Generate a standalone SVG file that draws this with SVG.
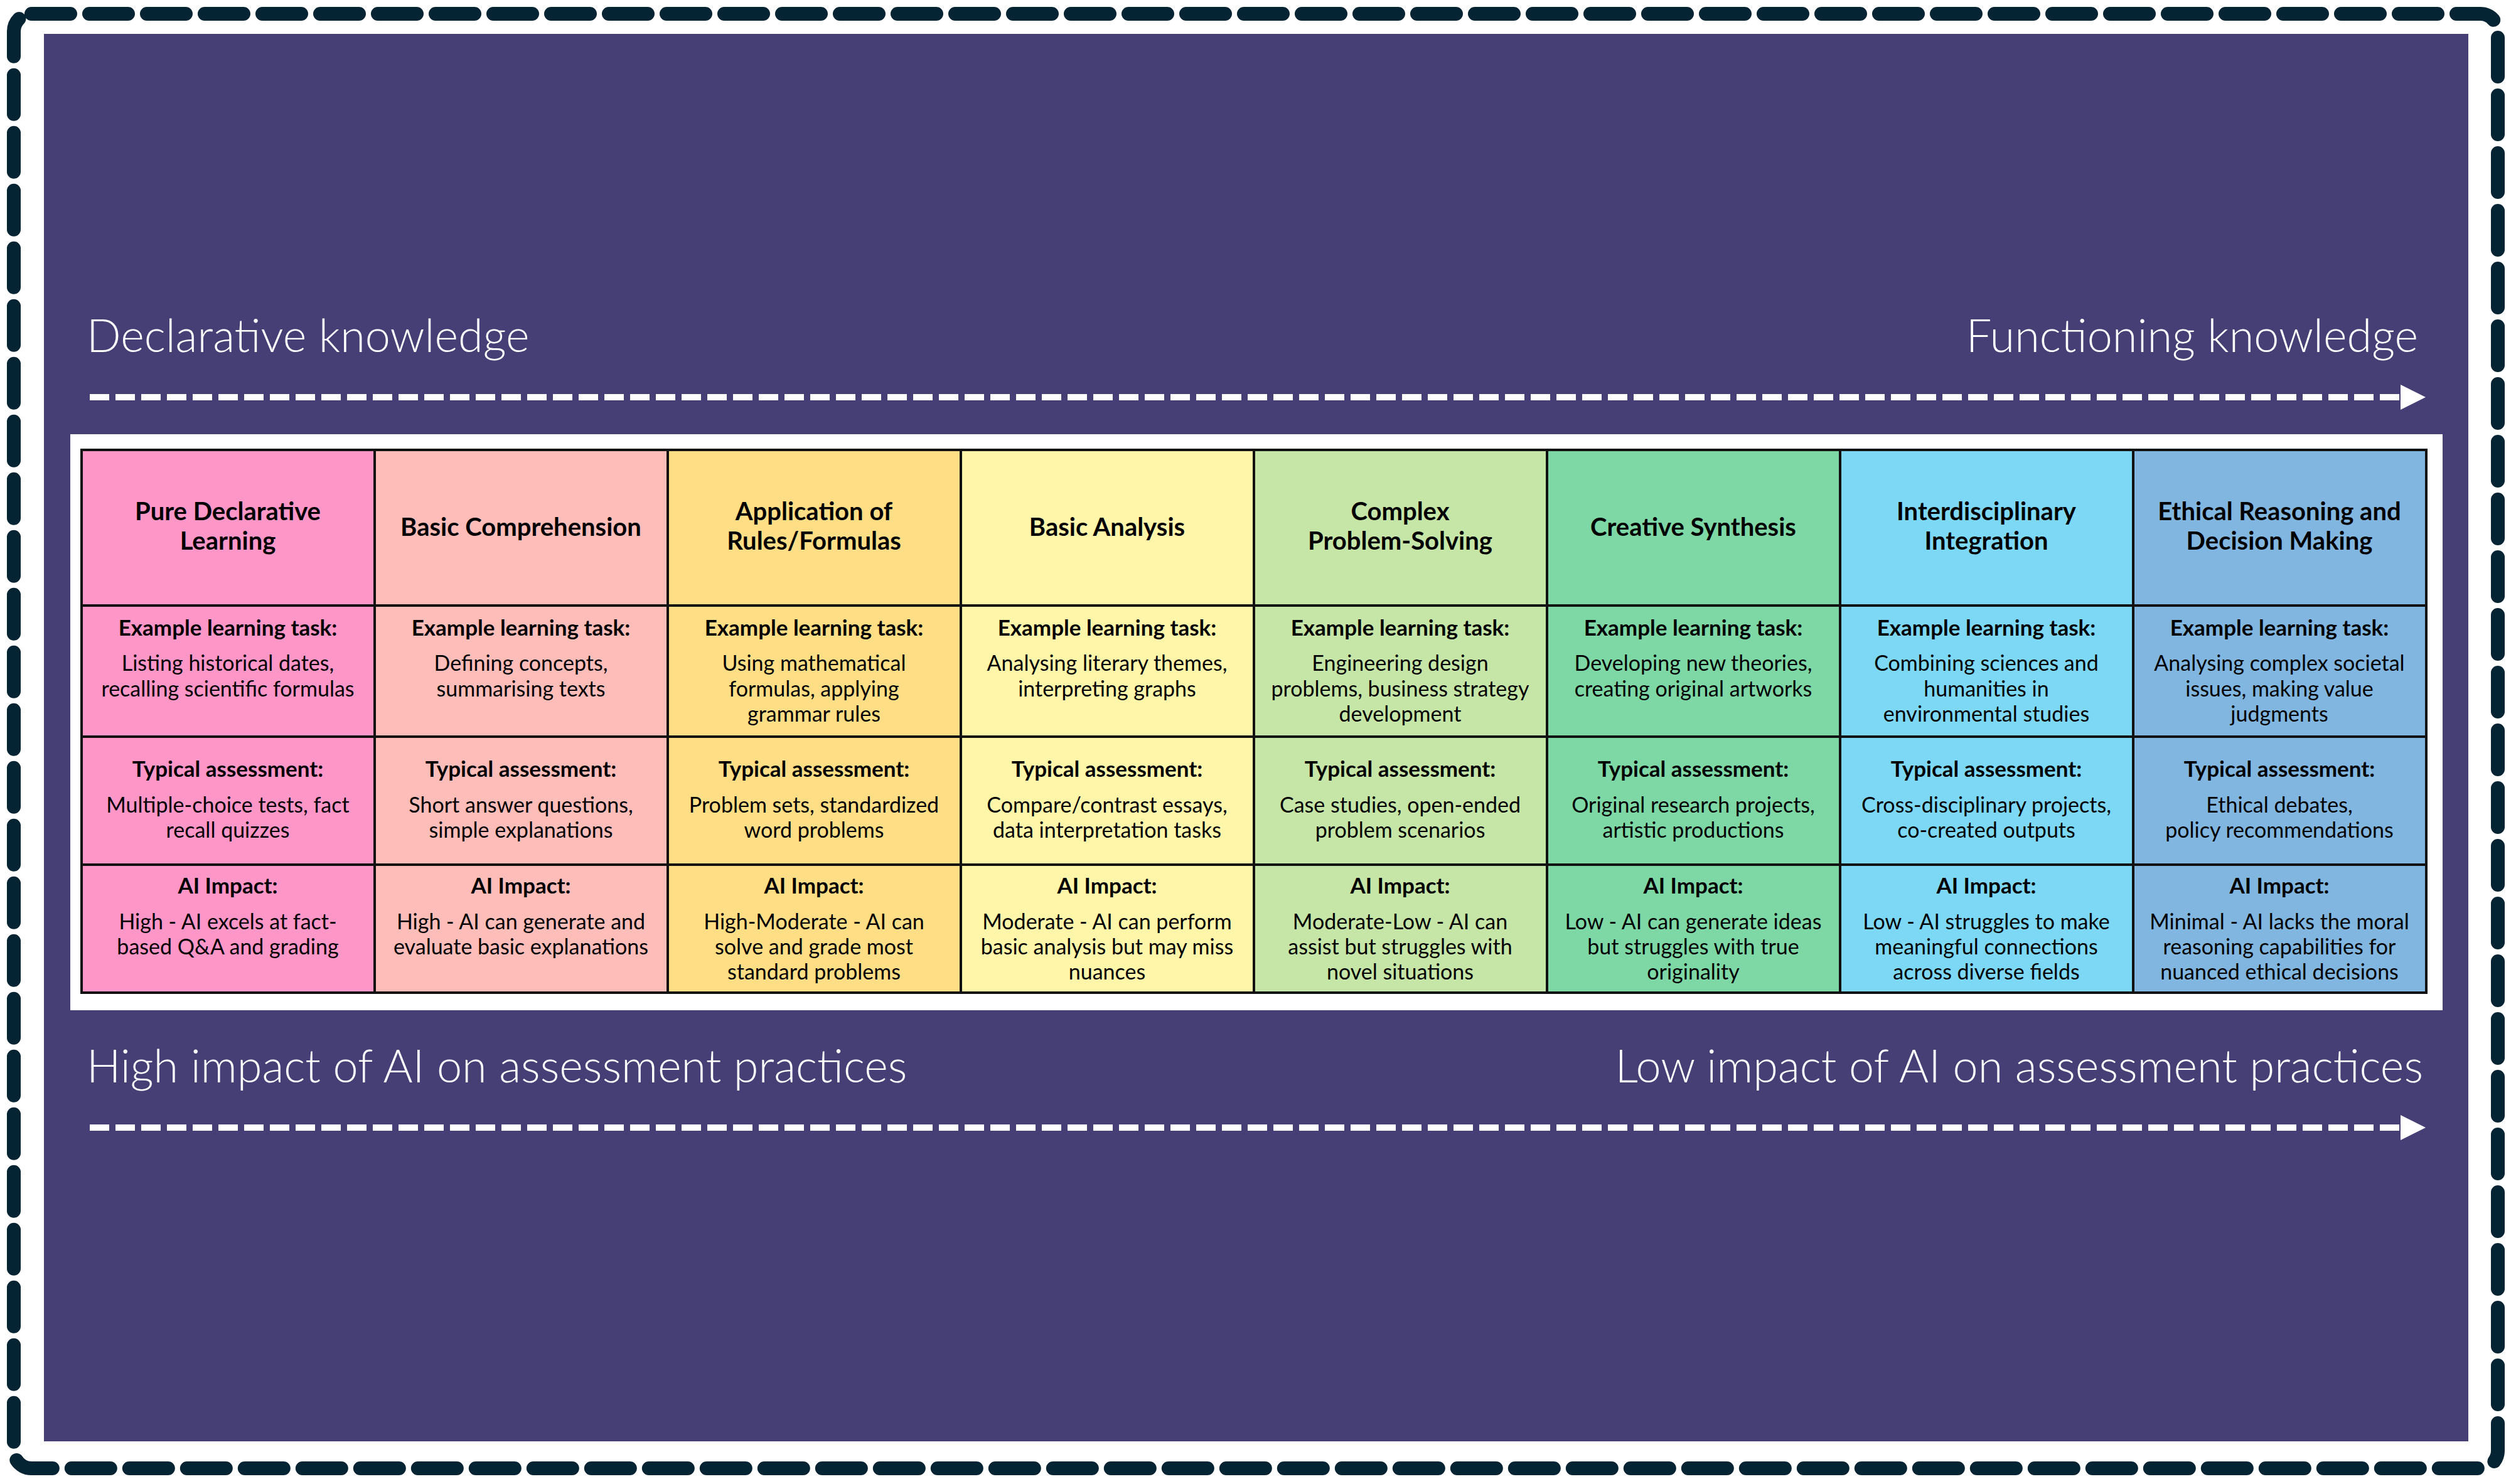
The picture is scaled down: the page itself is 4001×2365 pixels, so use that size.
<svg xmlns="http://www.w3.org/2000/svg" width="4001" height="2365" viewBox="0 0 4001 2365">
<style>
.h{font-family:Lato,"Open Sans",sans-serif;font-weight:700;font-size:40px;fill:#000;text-anchor:middle}
.l{font-family:Lato,"Open Sans",sans-serif;font-weight:700;font-size:35px;fill:#000;text-anchor:middle}
.b{font-family:Lato,"Open Sans",sans-serif;font-weight:400;font-size:34px;fill:#000;text-anchor:middle}
.big{font-family:Lato,"Open Sans",sans-serif;font-weight:300;font-size:72px;fill:#fff}
.cell{stroke:#111;stroke-width:4}
.arr{stroke:#fff;stroke-width:10;stroke-dasharray:31 10;fill:none}
</style>
<defs><marker id="ah" markerWidth="4" markerHeight="4" refX="2" refY="2" orient="auto" markerUnits="strokeWidth"><path d="M0,0 L4,2 L0,4 Z" fill="#fff"/></marker></defs>
<rect width="4001" height="2365" fill="#fff"/>
<rect x="70" y="54" width="3863" height="2243" fill="#463f76"/>
<rect x="22" y="22" width="3958" height="2318" rx="28" fill="none" stroke="#052433" stroke-width="22" stroke-linecap="round" stroke-dasharray="62 30"/>
<text class="big" x="138" y="561">Declarative knowledge</text>
<text class="big" x="3853" y="561" text-anchor="end">Functioning knowledge</text>
<text class="big" x="138" y="1725">High impact of AI on assessment practices</text>
<text class="big" x="3861" y="1725" text-anchor="end">Low impact of AI on assessment practices</text>
<g id="connectors">
<line class="arr" x1="143" y1="633" x2="3845" y2="633" marker-end="url(#ah)"/>
<line class="arr" x1="143" y1="1797" x2="3845" y2="1797" marker-end="url(#ah)"/>
</g>
<rect x="112" y="692" width="3780" height="918" fill="#fff"/>
<g id="col1"><rect class="cell" x="130" y="717" width="467" height="248" fill="#ff96c8"/><rect class="cell" x="130" y="965" width="467" height="209" fill="#ff96c8"/><rect class="cell" x="130" y="1174" width="467" height="204" fill="#ff96c8"/><rect class="cell" x="130" y="1378" width="467" height="204" fill="#ff96c8"/>
<text class="h" x="363" y="829">Pure Declarative</text><text class="h" x="363" y="876">Learning</text>
<text class="l" x="363" y="1013">Example learning task:</text><text class="b" x="363" y="1069">Listing historical dates,</text><text class="b" x="363" y="1110">recalling scientific formulas</text>
<text class="l" x="363" y="1238">Typical assessment:</text><text class="b" x="363" y="1295">Multiple-choice tests, fact</text><text class="b" x="363" y="1335">recall quizzes</text>
<text class="l" x="363" y="1424">AI Impact:</text><text class="b" x="363" y="1481">High - AI excels at fact-</text><text class="b" x="363" y="1521">based Q&amp;A and grading</text></g>
<g id="col2"><rect class="cell" x="597" y="717" width="467" height="248" fill="#ffbdba"/><rect class="cell" x="597" y="965" width="467" height="209" fill="#ffbdba"/><rect class="cell" x="597" y="1174" width="467" height="204" fill="#ffbdba"/><rect class="cell" x="597" y="1378" width="467" height="204" fill="#ffbdba"/>
<text class="h" x="830" y="854">Basic Comprehension</text>
<text class="l" x="830" y="1013">Example learning task:</text><text class="b" x="830" y="1069">Defining concepts,</text><text class="b" x="830" y="1110">summarising texts</text>
<text class="l" x="830" y="1238">Typical assessment:</text><text class="b" x="830" y="1295">Short answer questions,</text><text class="b" x="830" y="1335">simple explanations</text>
<text class="l" x="830" y="1424">AI Impact:</text><text class="b" x="830" y="1481">High - AI can generate and</text><text class="b" x="830" y="1521">evaluate basic explanations</text></g>
<g id="col3"><rect class="cell" x="1064" y="717" width="467" height="248" fill="#ffde85"/><rect class="cell" x="1064" y="965" width="467" height="209" fill="#ffde85"/><rect class="cell" x="1064" y="1174" width="467" height="204" fill="#ffde85"/><rect class="cell" x="1064" y="1378" width="467" height="204" fill="#ffde85"/>
<text class="h" x="1297" y="829">Application of</text><text class="h" x="1297" y="876">Rules/Formulas</text>
<text class="l" x="1297" y="1013">Example learning task:</text><text class="b" x="1297" y="1069">Using mathematical</text><text class="b" x="1297" y="1110">formulas, applying</text><text class="b" x="1297" y="1150">grammar rules</text>
<text class="l" x="1297" y="1238">Typical assessment:</text><text class="b" x="1297" y="1295">Problem sets, standardized</text><text class="b" x="1297" y="1335">word problems</text>
<text class="l" x="1297" y="1424">AI Impact:</text><text class="b" x="1297" y="1481">High-Moderate - AI can</text><text class="b" x="1297" y="1521">solve and grade most</text><text class="b" x="1297" y="1561">standard problems</text></g>
<g id="col4"><rect class="cell" x="1531" y="717" width="467" height="248" fill="#fff6aa"/><rect class="cell" x="1531" y="965" width="467" height="209" fill="#fff6aa"/><rect class="cell" x="1531" y="1174" width="467" height="204" fill="#fff6aa"/><rect class="cell" x="1531" y="1378" width="467" height="204" fill="#fff6aa"/>
<text class="h" x="1764" y="854">Basic Analysis</text>
<text class="l" x="1764" y="1013">Example learning task:</text><text class="b" x="1764" y="1069">Analysing literary themes,</text><text class="b" x="1764" y="1110">interpreting graphs</text>
<text class="l" x="1764" y="1238">Typical assessment:</text><text class="b" x="1764" y="1295">Compare/contrast essays,</text><text class="b" x="1764" y="1335">data interpretation tasks</text>
<text class="l" x="1764" y="1424">AI Impact:</text><text class="b" x="1764" y="1481">Moderate - AI can perform</text><text class="b" x="1764" y="1521">basic analysis but may miss</text><text class="b" x="1764" y="1561">nuances</text></g>
<g id="col5"><rect class="cell" x="1998" y="717" width="467" height="248" fill="#c5e6a6"/><rect class="cell" x="1998" y="965" width="467" height="209" fill="#c5e6a6"/><rect class="cell" x="1998" y="1174" width="467" height="204" fill="#c5e6a6"/><rect class="cell" x="1998" y="1378" width="467" height="204" fill="#c5e6a6"/>
<text class="h" x="2231" y="829">Complex</text><text class="h" x="2231" y="876">Problem-Solving</text>
<text class="l" x="2231" y="1013">Example learning task:</text><text class="b" x="2231" y="1069">Engineering design</text><text class="b" x="2231" y="1110">problems, business strategy</text><text class="b" x="2231" y="1150">development</text>
<text class="l" x="2231" y="1238">Typical assessment:</text><text class="b" x="2231" y="1295">Case studies, open-ended</text><text class="b" x="2231" y="1335">problem scenarios</text>
<text class="l" x="2231" y="1424">AI Impact:</text><text class="b" x="2231" y="1481">Moderate-Low - AI can</text><text class="b" x="2231" y="1521">assist but struggles with</text><text class="b" x="2231" y="1561">novel situations</text></g>
<g id="col6"><rect class="cell" x="2465" y="717" width="467" height="248" fill="#7ed8a6"/><rect class="cell" x="2465" y="965" width="467" height="209" fill="#7ed8a6"/><rect class="cell" x="2465" y="1174" width="467" height="204" fill="#7ed8a6"/><rect class="cell" x="2465" y="1378" width="467" height="204" fill="#7ed8a6"/>
<text class="h" x="2698" y="854">Creative Synthesis</text>
<text class="l" x="2698" y="1013">Example learning task:</text><text class="b" x="2698" y="1069">Developing new theories,</text><text class="b" x="2698" y="1110">creating original artworks</text>
<text class="l" x="2698" y="1238">Typical assessment:</text><text class="b" x="2698" y="1295">Original research projects,</text><text class="b" x="2698" y="1335">artistic productions</text>
<text class="l" x="2698" y="1424">AI Impact:</text><text class="b" x="2698" y="1481">Low - AI can generate ideas</text><text class="b" x="2698" y="1521">but struggles with true</text><text class="b" x="2698" y="1561">originality</text></g>
<g id="col7"><rect class="cell" x="2932" y="717" width="467" height="248" fill="#7dd8f6"/><rect class="cell" x="2932" y="965" width="467" height="209" fill="#7dd8f6"/><rect class="cell" x="2932" y="1174" width="467" height="204" fill="#7dd8f6"/><rect class="cell" x="2932" y="1378" width="467" height="204" fill="#7dd8f6"/>
<text class="h" x="3165" y="829">Interdisciplinary</text><text class="h" x="3165" y="876">Integration</text>
<text class="l" x="3165" y="1013">Example learning task:</text><text class="b" x="3165" y="1069">Combining sciences and</text><text class="b" x="3165" y="1110">humanities in</text><text class="b" x="3165" y="1150">environmental studies</text>
<text class="l" x="3165" y="1238">Typical assessment:</text><text class="b" x="3165" y="1295">Cross-disciplinary projects,</text><text class="b" x="3165" y="1335">co-created outputs</text>
<text class="l" x="3165" y="1424">AI Impact:</text><text class="b" x="3165" y="1481">Low - AI struggles to make</text><text class="b" x="3165" y="1521">meaningful connections</text><text class="b" x="3165" y="1561">across diverse fields</text></g>
<g id="col8"><rect class="cell" x="3399" y="717" width="467" height="248" fill="#80b6df"/><rect class="cell" x="3399" y="965" width="467" height="209" fill="#80b6df"/><rect class="cell" x="3399" y="1174" width="467" height="204" fill="#80b6df"/><rect class="cell" x="3399" y="1378" width="467" height="204" fill="#80b6df"/>
<text class="h" x="3632" y="829">Ethical Reasoning and</text><text class="h" x="3632" y="876">Decision Making</text>
<text class="l" x="3632" y="1013">Example learning task:</text><text class="b" x="3632" y="1069">Analysing complex societal</text><text class="b" x="3632" y="1110">issues, making value</text><text class="b" x="3632" y="1150">judgments</text>
<text class="l" x="3632" y="1238">Typical assessment:</text><text class="b" x="3632" y="1295">Ethical debates,</text><text class="b" x="3632" y="1335">policy recommendations</text>
<text class="l" x="3632" y="1424">AI Impact:</text><text class="b" x="3632" y="1481">Minimal - AI lacks the moral</text><text class="b" x="3632" y="1521">reasoning capabilities for</text><text class="b" x="3632" y="1561">nuanced ethical decisions</text></g>
</svg>
